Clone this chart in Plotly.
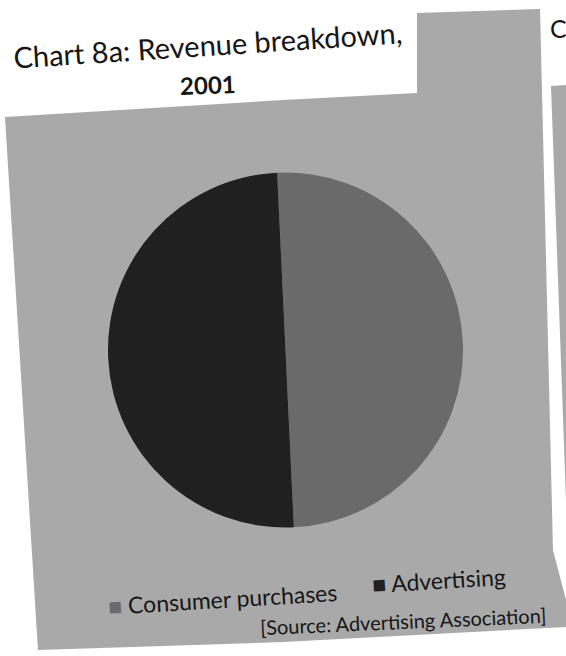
import plotly.graph_objects as go

# data
labels = ["Consumer purchases", "Advertising"]
shares = [50, 50]
slice_colors = ["#6a6a6a", "#202020"]

title_text = "Chart 8a: Revenue breakdown,"
year_text = "2001"
source_text = "[Source: Advertising Association]"

W, H = 566, 656


def px(x):
    return x / W


def py(y):
    return 1 - y / H


def path(points):
    d = "M " + " L ".join(f"{px(x):.4f},{py(y):.4f}" for x, y in points)
    return d + " Z"


fig = go.Figure(
    go.Pie(
        labels=labels,
        values=shares,
        sort=False,
        direction="clockwise",
        rotation=-2.7,
        marker=dict(colors=slice_colors, line=dict(width=0)),
        textinfo="none",
        hoverinfo="label+percent",
        showlegend=False,
        domain=dict(x=[px(108), px(463)], y=[py(530), py(170)]),
    )
)

# grey halftone panels of the scanned page
panel_grey = "#a9a9a9"
fig.add_shape(
    type="path",
    xref="paper",
    yref="paper",
    path=path([(5, 117), (283, 100), (417, 93), (417, 13), (540, 9),
               (553, 550), (566, 600), (566, 627), (283, 642), (38, 650)]),
    fillcolor=panel_grey,
    line=dict(width=0),
    layer="below",
)
fig.add_shape(
    type="path",
    xref="paper",
    yref="paper",
    path=path([(551, 86), (566, 85), (566, 500)]),
    fillcolor=panel_grey,
    line=dict(width=0),
    layer="below",
)

font = "Lato, 'Open Sans', sans-serif"
ink = "#161616"

fig.add_annotation(x=px(207), y=py(44), text=title_text, showarrow=False,
                   xref="paper", yref="paper", xanchor="center", yanchor="middle",
                   textangle=-3.7, font=dict(family=font, size=29, color=ink))
fig.add_annotation(x=px(208), y=py(84), text=f"<b>{year_text}</b>", showarrow=False,
                   xref="paper", yref="paper", xanchor="center", yanchor="middle",
                   textangle=-2, font=dict(family=font, size=24, color=ink))
fig.add_annotation(x=px(549), y=py(28), text="C", showarrow=False,
                   xref="paper", yref="paper", xanchor="left", yanchor="middle",
                   borderpad=0, font=dict(family=font, size=25, color=ink))

# legend drawn as rotated text, following the tilt of the scan
legend_pos = [(222, 599), (439, 580)]
for label, color, (lx, ly) in zip(labels, slice_colors, legend_pos):
    fig.add_annotation(
        x=px(lx), y=py(ly),
        text=f"<span style='color:{color}'>■</span> {label}",
        showarrow=False, xref="paper", yref="paper",
        xanchor="center", yanchor="middle", textangle=-3.5,
        font=dict(family=font, size=23, color=ink),
    )

fig.add_annotation(x=px(403), y=py(621), text=source_text, showarrow=False,
                   xref="paper", yref="paper", xanchor="center", yanchor="middle",
                   textangle=-2.5, font=dict(family=font, size=20, color=ink))

fig.update_layout(
    width=W,
    height=H,
    autosize=False,
    margin=dict(l=0, r=0, t=0, b=0),
    paper_bgcolor="white",
    plot_bgcolor="white",
)

# drop the browser's default body margin so the figure fills the window
fig.write_html(
    "out.html",
    config={"displayModeBar": False},
    post_script="document.body.style.margin='0';",
)
